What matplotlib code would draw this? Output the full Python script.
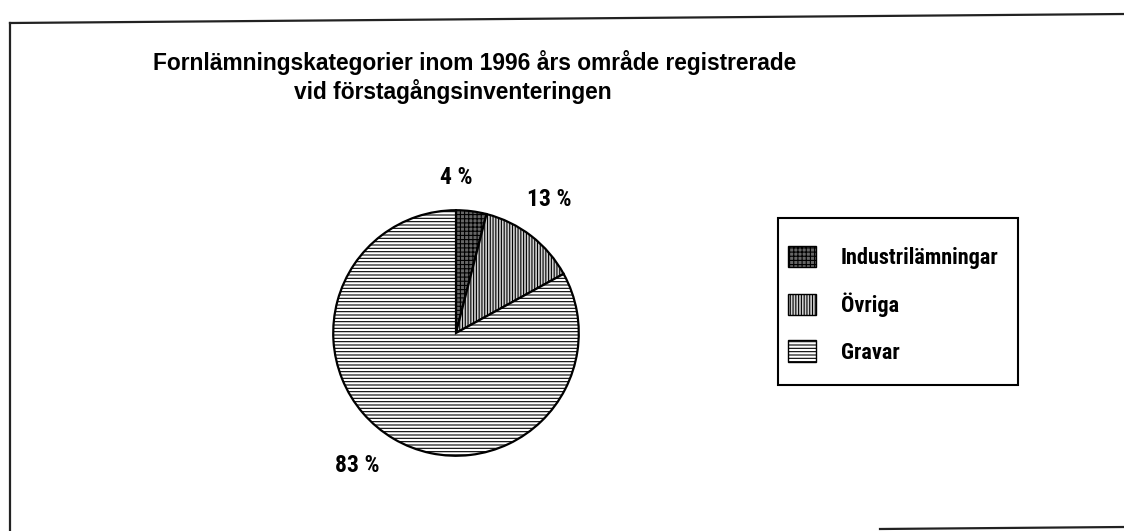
import matplotlib.pyplot as plt
from matplotlib import font_manager
from matplotlib.lines import Line2D
from matplotlib.patches import Rectangle, Patch

# data
kategorier = ['Industrilämningar', 'Övriga', 'Gravar']
andelar = [4, 13, 83]
etiketter = ['4 %', '13 %', '83 %']
hatchar = ['++++', '||||||', '-----']
fyllning = ['#666666', '#d0d0d0', 'white']

# hitta ett smalt typsnitt om det finns
namn = {f.name for f in font_manager.fontManager.ttflist}
if 'Liberation Sans Narrow' in namn:
    smal = 'Liberation Sans Narrow'
elif 'Roboto Condensed' in namn:
    smal = 'Roboto Condensed'
else:
    smal = 'DejaVu Sans'

plt.rcParams['hatch.linewidth'] = 0.8

fig = plt.figure(figsize=(11.24, 5.31), dpi=100)
fig.patch.set_facecolor('white')

# ram (något sned i skanningen)
W, H = 1124, 531
for xs, ys in [((10, 1124), (23, 14)), ((10, 10), (23, 531)), ((880, 1124), (529, 527))]:
    fig.add_artist(Line2D([x / W for x in xs], [1 - y / H for y in ys],
                          transform=fig.transFigure, color='#222222', linewidth=1.6))

fig.text(0.422, 0.883, 'Fornlämningskategorier inom 1996 års område registrerade',
         ha='center', va='center', fontsize=16.4, fontweight='bold', family='Liberation Sans')
fig.text(0.403, 0.827, 'vid förstagångsinventeringen',
         ha='center', va='center', fontsize=16.4, fontweight='bold', family='Liberation Sans')

ax = fig.add_axes([332 / W, 1 - 457 / H, 248 / W, 248 / H])
wedges, texts = ax.pie(andelar, startangle=90, counterclock=False, radius=1,
                       colors=fyllning, wedgeprops=dict(edgecolor='black', linewidth=1.6))
for w, h in zip(wedges, hatchar):
    w.set_hatch(h)
ax.set_xlim(-1.01, 1.01)
ax.set_ylim(-1.01, 1.01)
ax.set_aspect('equal')

# procentetiketter
lab_pos = [(456, 178), (549, 200), (357, 465)]
for (x, y), t in zip(lab_pos, etiketter):
    fig.text(x / W, 1 - y / H, t, ha='center', va='center', fontsize=17,
             fontweight='bold', family=smal)

# legendram ritad separat
fig.add_artist(Rectangle((778 / W, 1 - 385 / H), 240 / W, 167 / H, transform=fig.transFigure,
                         fill=False, edgecolor='black', linewidth=1.5))
handles = [Patch(facecolor=c, edgecolor='black', hatch=h) for c, h in zip(fyllning, hatchar)]
leg = fig.legend(handles, kategorier, loc='upper left', bbox_to_anchor=(788 / W, 1 - 246 / H),
                 frameon=False, prop={'family': smal, 'weight': 'bold', 'size': 16},
                 borderpad=0, borderaxespad=0,
                 handlelength=1.27, handleheight=1.1, labelspacing=1.05, handletextpad=1.1)

plt.savefig('out.png', dpi=100)
